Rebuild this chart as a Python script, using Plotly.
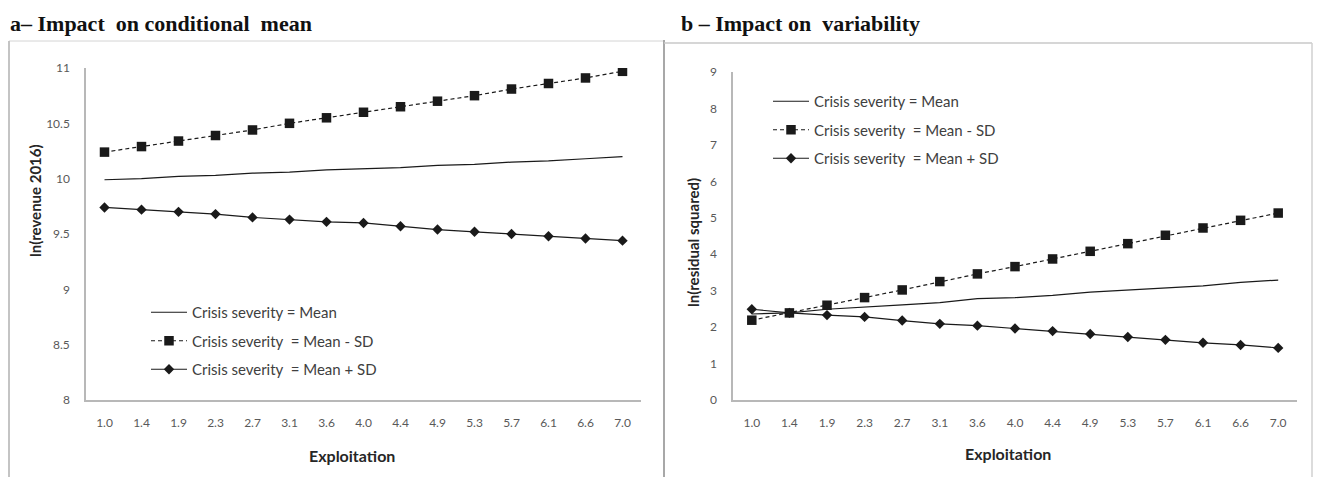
import plotly.graph_objects as go

PAGE_W, PAGE_H = 1321, 485
OFF = 8  # default page body margin of the browser
W, H = PAGE_W - 2 * OFF, PAGE_H - 2 * OFF  # figure fits the window exactly

exploitation = ["1.0", "1.4", "1.9", "2.3", "2.7", "3.1", "3.6", "4.0", "4.4", "4.9", "5.3", "5.7", "6.1", "6.6", "7.0"]

# Panel a - ln(revenue 2016)
a_mean = [9.99, 10.00, 10.02, 10.03, 10.05, 10.06, 10.08, 10.09, 10.10, 10.12, 10.13, 10.15, 10.16, 10.18, 10.20]
a_mean_minus_sd = [10.24, 10.29, 10.34, 10.39, 10.44, 10.50, 10.55, 10.60, 10.65, 10.70, 10.75, 10.81, 10.86, 10.91, 10.97]
a_mean_plus_sd = [9.74, 9.72, 9.70, 9.68, 9.65, 9.63, 9.61, 9.60, 9.57, 9.54, 9.52, 9.50, 9.48, 9.46, 9.44]

# Panel b - ln(residual squared)
b_mean = [2.36, 2.39, 2.49, 2.54, 2.61, 2.67, 2.78, 2.81, 2.87, 2.96, 3.02, 3.07, 3.13, 3.23, 3.29]
b_mean_minus_sd = [2.19, 2.39, 2.60, 2.81, 3.02, 3.25, 3.46, 3.66, 3.87, 4.08, 4.29, 4.52, 4.72, 4.93, 5.13]
b_mean_plus_sd = [2.49, 2.39, 2.33, 2.28, 2.18, 2.09, 2.04, 1.96, 1.89, 1.81, 1.73, 1.65, 1.57, 1.51, 1.43]

legend_names = ["Crisis severity\u00a0= Mean",
                "Crisis severity\u00a0\u00a0= Mean - SD",
                "Crisis severity\u00a0\u00a0= Mean + SD"]

titles = ["a\u2013 Impact\u00a0 on conditional\u00a0 mean", "b \u2013 Impact on\u00a0 variability"]
y_titles = ["ln(revenue 2016)", "ln(residual squared)"]
x_title = "Exploitation"


def px_x(p):
    return (p - OFF) / W


def px_y(p):
    return 1 - (p - OFF) / H


INK = "#1a1a1a"
TICK = "#595959"
FONT = "Lato, Open Sans, sans-serif"

fig = go.Figure()

panels = [
    (a_mean, a_mean_minus_sd, a_mean_plus_sd, "x", "y", "legend"),
    (b_mean, b_mean_minus_sd, b_mean_plus_sd, "x2", "y2", "legend2"),
]
for pi, (m, mm, mp, xa, ya, lg) in enumerate(panels):
    fig.add_trace(go.Scatter(x=exploitation, y=m, mode="lines", name=legend_names[0],
                             line=dict(color=INK, width=1.2), xaxis=xa, yaxis=ya,
                             legend=lg, legendgroup=f"{pi}m"))
    fig.add_trace(go.Scatter(x=exploitation, y=mm, mode="lines+markers", name=legend_names[1],
                             line=dict(color=INK, width=1.2, dash="4px,3px"),
                             marker=dict(symbol="square", size=9.5, color=INK),
                             xaxis=xa, yaxis=ya, legend=lg, legendgroup=f"{pi}mm"))
    fig.add_trace(go.Scatter(x=exploitation, y=mp, mode="lines+markers", name=legend_names[2],
                             line=dict(color=INK, width=1.2),
                             marker=dict(symbol="diamond", size=8, color=INK),
                             xaxis=xa, yaxis=ya, legend=lg, legendgroup=f"{pi}mp"))

axis_common = dict(showgrid=False, zeroline=False, showline=True, linecolor="#b8b8b8",
                   linewidth=1.5, ticks="", automargin=False,
                   tickfont=dict(family=FONT, size=12, color=TICK))

legend_common = dict(xanchor="left", yanchor="top", itemwidth=36,
                     font=dict(family=FONT, size=15, color="#404040"),
                     bgcolor="rgba(0,0,0,0)", traceorder="grouped", tracegroupgap=6)

fig.update_layout(
    width=W, height=H,
    margin=dict(l=0, r=0, t=0, b=0, autoexpand=False),
    paper_bgcolor="white", plot_bgcolor="white",
    xaxis=dict(domain=[px_x(86), px_x(641)], type="category", range=[-0.5, 14.5],
               anchor="y", ticklabelstandoff=11, **axis_common),
    yaxis=dict(domain=[px_y(400), px_y(68)], range=[8, 11], dtick=0.5, anchor="x",
               ticklabelstandoff=12, **axis_common),
    xaxis2=dict(domain=[px_x(733), px_x(1297)], type="category", range=[-0.5, 14.5],
                anchor="y2", ticklabelstandoff=11, **axis_common),
    yaxis2=dict(domain=[px_y(400), px_y(72)], range=[0, 9], dtick=1, anchor="x2",
                ticklabelstandoff=12, **axis_common),
    legend=dict(x=px_x(146), y=px_y(296), **legend_common),
    legend2=dict(x=px_x(768), y=px_y(85), **legend_common),
    showlegend=True,
)

# Panel frames
frame = [
    (9, 41, 664, 41, "#d4d4d4", 1),
    (9, 41, 9, 485, "#c4c4c4", 2),
    (664, 40, 664, 485, "#a8a8a8", 2),
    (664, 43, 1312, 43, "#c8c8c8", 1.5),
    (1312, 43, 1312, 485, "#d0d0d0", 1.5),
]
for x0, y0, x1, y1, c, w in frame:
    fig.add_shape(type="line", xref="paper", yref="paper",
                  x0=px_x(x0), y0=px_y(y0), x1=px_x(x1), y1=px_y(y1),
                  line=dict(color=c, width=w))

# Panel titles
for t, x in zip(titles, [8, 679]):
    fig.add_annotation(text=f"<b>{t}</b>", xref="paper", yref="paper", x=px_x(x), y=px_y(23),
                       xanchor="left", yanchor="middle", showarrow=False,
                       font=dict(family="Liberation Serif, Times New Roman, serif", size=22, color="#111111"))

# Axis titles
for t, x, y in zip(y_titles, [35, 693], [201, 243]):
    fig.add_annotation(text=f"<b>{t}</b>", xref="paper", yref="paper", x=px_x(x), y=px_y(y),
                       textangle=-90, showarrow=False, xanchor="center", yanchor="middle",
                       font=dict(family=FONT, size=15, color="#262626"))
for x, y in [(352, 455), (1008, 453)]:
    fig.add_annotation(text=f"<b>{x_title}</b>", xref="paper", yref="paper", x=px_x(x), y=px_y(y),
                       showarrow=False, xanchor="center", yanchor="middle",
                       font=dict(family=FONT, size=16, color="#262626"))

fig.write_html("out.html")
